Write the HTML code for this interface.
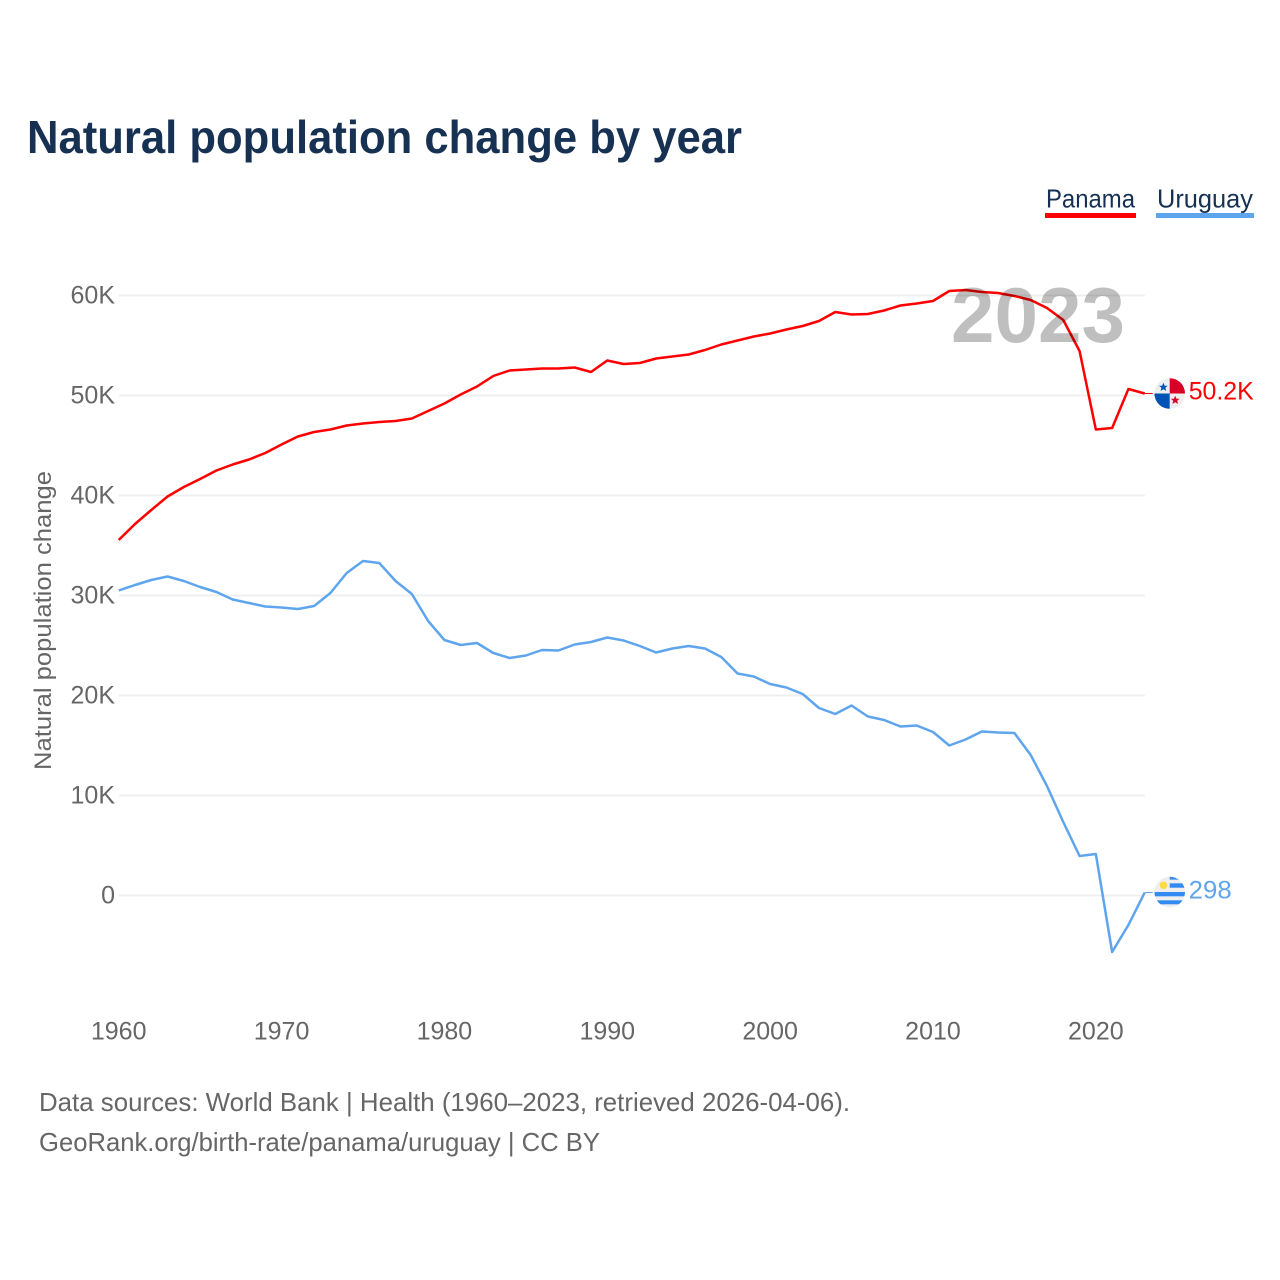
<!DOCTYPE html>
<html lang="en">
<head>
<meta charset="utf-8">
<title>Natural population change by year</title>
<style>
html,body{margin:0;padding:0;background:#fff;}
svg{display:block;font-family:"Liberation Sans",sans-serif;}
</style>
</head>
<body>
<svg id="chart" xmlns="http://www.w3.org/2000/svg" width="1280" height="1280" viewBox="0 0 1280 1280">
  <rect x="0" y="0" width="1280" height="1280" fill="#ffffff"/>
  <text x="27" y="153" font-size="46" font-weight="700" fill="#173153" textLength="715" lengthAdjust="spacingAndGlyphs">Natural population change by year</text>

  <g>
    <text x="1046" y="207.5" font-size="26" fill="#173153" textLength="89" lengthAdjust="spacingAndGlyphs">Panama</text>
    <rect x="1045" y="213" width="91" height="5" fill="#ff0000"/>
  </g>
  <g>
    <text x="1157" y="207.5" font-size="26" fill="#173153" textLength="96" lengthAdjust="spacingAndGlyphs">Uruguay</text>
    <rect x="1156" y="213" width="98" height="5" fill="#5fa5ee"/>
  </g>

  <text transform="translate(51,770) rotate(-90)" font-size="24" fill="#666666" textLength="299" lengthAdjust="spacingAndGlyphs">Natural population change</text>

  <g id="grid"></g>
  <g id="yticks"></g>
  <g id="xticks"></g>
  <g id="series"></g>

  <text x="951" y="342" font-size="78" font-weight="700" fill="#000000" fill-opacity="0.25" textLength="174" lengthAdjust="spacingAndGlyphs">2023</text>

  <defs>
    <clipPath id="flag-clip-pa"><circle cx="0" cy="0" r="15.3"/></clipPath>
    <clipPath id="flag-clip-uy"><circle cx="0" cy="0" r="15.3"/></clipPath>
  </defs>

  <g id="flag-panama">
    <g clip-path="url(#flag-clip-pa)">
      <rect x="-16" y="-16" width="32" height="32" fill="#eeeeee"/>
      <rect x="0" y="-16" width="16" height="16" fill="#d80027"/>
      <rect x="-16" y="0" width="16" height="16" fill="#0052b4"/>
      <polygon points="-6.3,-10.8 -5,-7.8 -1.9,-7.8 -4.3,-5.7 -3.5,-2.6 -6.3,-4.3 -9.1,-2.6 -8.3,-5.7 -10.7,-7.8 -7.6,-7.8" fill="#0052b4"/>
      <polygon points="5.5,2.2 6.8,5.2 9.9,5.2 7.5,7.3 8.3,10.4 5.5,8.7 2.7,10.4 3.5,7.3 1.1,5.2 4.2,5.2" fill="#d80027"/>
    </g>
  </g>
  <g id="flag-uruguay">
    <g clip-path="url(#flag-clip-uy)">
      <rect x="-16" y="-16" width="32" height="32" fill="#eeeeee"/>
      <rect x="0" y="-16" width="16" height="3.6" fill="#338af3"/>
      <rect x="0" y="-8.7" width="16" height="4.4" fill="#338af3"/>
      <rect x="-16" y="0" width="32" height="4.3" fill="#338af3"/>
      <rect x="-16" y="8.3" width="32" height="4" fill="#338af3"/>
      <circle cx="-6.2" cy="-6.7" r="3.8" fill="#ffda44"/>
    </g>
  </g>

  <text x="39" y="1111" font-size="26" fill="#666666" textLength="811" lengthAdjust="spacingAndGlyphs">Data sources: World Bank | Health (1960–2023, retrieved 2026-04-06).</text>
  <text x="39" y="1151" font-size="26" fill="#666666" textLength="561" lengthAdjust="spacingAndGlyphs">GeoRank.org/birth-rate/panama/uruguay | CC BY</text>

  <script>
    const years = [1960,1961,1962,1963,1964,1965,1966,1967,1968,1969,1970,1971,1972,1973,1974,1975,1976,1977,1978,1979,1980,1981,1982,1983,1984,1985,1986,1987,1988,1989,1990,1991,1992,1993,1994,1995,1996,1997,1998,1999,2000,2001,2002,2003,2004,2005,2006,2007,2008,2009,2010,2011,2012,2013,2014,2015,2016,2017,2018,2019,2020,2021,2022,2023];
    const panama = [35550,37150,38550,39900,40850,41650,42500,43100,43600,44250,45100,45900,46350,46600,47000,47200,47350,47450,47700,48450,49200,50100,50900,51950,52500,52600,52700,52700,52800,52350,53500,53150,53250,53700,53900,54100,54550,55100,55500,55900,56200,56600,56950,57450,58350,58100,58150,58500,59000,59200,59450,60450,60550,60350,60250,59950,59550,58750,57550,54450,46600,46750,50650,50200];
    const uruguay = [30500,31050,31550,31900,31450,30850,30350,29600,29250,28900,28800,28650,28950,30250,32250,33450,33250,31450,30150,27450,25550,25050,25250,24250,23750,24000,24550,24500,25100,25350,25800,25500,24950,24300,24700,24950,24700,23850,22200,21900,21150,20800,20150,18750,18150,19000,17900,17550,16900,17000,16350,15000,15600,16400,16300,16250,14050,10950,7350,3950,4150,-5650,-2950,298];
    const yTickValues = [0,10000,20000,30000,40000,50000,60000];
    const yTickLabels = ["0","10K","20K","30K","40K","50K","60K"];
    const xTickValues = [1960,1970,1980,1990,2000,2010,2020];
    const xTickLabels = ["1960","1970","1980","1990","2000","2010","2020"];
    const panamaEndLabel = "50.2K";
    const uruguayEndLabel = "298";

    const SVGNS = "http://www.w3.org/2000/svg";
    const chart = document.getElementById("chart");
    const xScale = function (year) { return 118.7 + (year - 1960) * (1144.7 - 118.7) / 63; };
    const yScale = function (v) { return 895.5 - v * 0.01; };

    const gridGroup = document.getElementById("grid");
    const yTickGroup = document.getElementById("yticks");
    const xTickGroup = document.getElementById("xticks");
    const seriesGroup = document.getElementById("series");

    yTickValues.forEach(function (v, i) {
      const line = document.createElementNS(SVGNS, "line");
      line.setAttribute("x1", xScale(1960));
      line.setAttribute("x2", xScale(2023));
      line.setAttribute("y1", yScale(v));
      line.setAttribute("y2", yScale(v));
      line.setAttribute("stroke", "#eeeeee");
      line.setAttribute("stroke-width", "1.8");
      
      
      gridGroup.appendChild(line);

      const label = document.createElementNS(SVGNS, "text");
      label.setAttribute("x", 115);
      label.setAttribute("y", yScale(v) + 8);
      label.setAttribute("text-anchor", "end");
      label.setAttribute("font-size", "25");
      label.setAttribute("fill", "#666666");
      label.textContent = yTickLabels[i];
      
      
      yTickGroup.appendChild(label);
    });

    xTickValues.forEach(function (v, i) {
      const label = document.createElementNS(SVGNS, "text");
      label.setAttribute("x", xScale(v));
      label.setAttribute("y", 1039.5);
      label.setAttribute("text-anchor", "middle");
      label.setAttribute("font-size", "25");
      label.setAttribute("fill", "#666666");
      label.textContent = xTickLabels[i];
      
      
      xTickGroup.appendChild(label);
    });

    function pathFor(values) {
      return values.map(function (v, i) {
        return (i === 0 ? "M" : "L") + xScale(years[i]).toFixed(2) + " " + yScale(v).toFixed(2);
      }).join(" ");
    }

    const panamaLine = document.createElementNS(SVGNS, "path");
    panamaLine.setAttribute("d", pathFor(panama));
    panamaLine.setAttribute("fill", "none");
    panamaLine.setAttribute("stroke", "#ff0000");
    panamaLine.setAttribute("stroke-width", "2.5");
    panamaLine.setAttribute("stroke-linejoin", "round");
    
    
    seriesGroup.appendChild(panamaLine);

    const uruguayLine = document.createElementNS(SVGNS, "path");
    uruguayLine.setAttribute("d", pathFor(uruguay));
    uruguayLine.setAttribute("fill", "none");
    uruguayLine.setAttribute("stroke", "#5fa5ee");
    uruguayLine.setAttribute("stroke-width", "2.5");
    uruguayLine.setAttribute("stroke-linejoin", "round");
    
    
    seriesGroup.appendChild(uruguayLine);

    const lastIndex = years.length - 1;
    const endX = xScale(years[lastIndex]);

    const panamaConnector = document.createElementNS(SVGNS, "line");
    panamaConnector.setAttribute("x1", endX);
    panamaConnector.setAttribute("x2", endX + 8);
    panamaConnector.setAttribute("y1", yScale(panama[lastIndex]));
    panamaConnector.setAttribute("y2", yScale(panama[lastIndex]));
    panamaConnector.setAttribute("stroke", "#ff0000");
    panamaConnector.setAttribute("stroke-width", "1");
    
    
    seriesGroup.appendChild(panamaConnector);

    const uruguayConnector = document.createElementNS(SVGNS, "line");
    uruguayConnector.setAttribute("x1", endX);
    uruguayConnector.setAttribute("x2", endX + 8);
    uruguayConnector.setAttribute("y1", yScale(uruguay[lastIndex]));
    uruguayConnector.setAttribute("y2", yScale(uruguay[lastIndex]));
    uruguayConnector.setAttribute("stroke", "#5fa5ee");
    uruguayConnector.setAttribute("stroke-width", "1");
    
    
    seriesGroup.appendChild(uruguayConnector);

    document.getElementById("flag-panama").setAttribute("transform", "translate(" + (endX + 25) + "," + yScale(panama[lastIndex]) + ")");
    document.getElementById("flag-uruguay").setAttribute("transform", "translate(" + (endX + 25) + "," + (yScale(uruguay[lastIndex]) - 0.5) + ")");

    const panamaValue = document.createElementNS(SVGNS, "text");
    panamaValue.setAttribute("x", endX + 44);
    panamaValue.setAttribute("y", yScale(panama[lastIndex]) + 6);
    panamaValue.setAttribute("font-size", "25");
    panamaValue.setAttribute("fill", "#ff0000");
    panamaValue.setAttribute("textLength", "65");
    panamaValue.setAttribute("lengthAdjust", "spacingAndGlyphs");
    panamaValue.textContent = panamaEndLabel;
    
    
    chart.appendChild(panamaValue);

    const uruguayValue = document.createElementNS(SVGNS, "text");
    uruguayValue.setAttribute("x", endX + 44);
    uruguayValue.setAttribute("y", yScale(uruguay[lastIndex]) + 6);
    uruguayValue.setAttribute("font-size", "25");
    uruguayValue.setAttribute("fill", "#5fa5ee");
    uruguayValue.setAttribute("textLength", "43");
    uruguayValue.setAttribute("lengthAdjust", "spacingAndGlyphs");
    uruguayValue.textContent = uruguayEndLabel;
    
    
    chart.appendChild(uruguayValue);
  </script>
</svg>
</body>
</html>
